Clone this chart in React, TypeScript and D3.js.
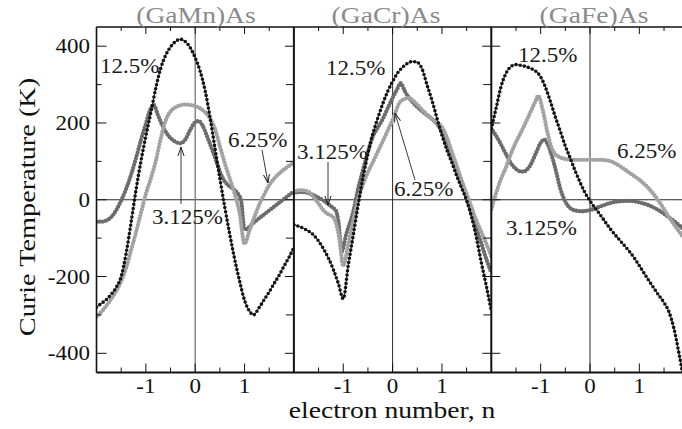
import React from 'react';
import * as d3 from 'd3';

type Pt = [number, number];

// Panel titles and series names
const panelTitles = ['(GaMn)As', '(GaCr)As', '(GaFe)As'];
const concentrations = ['12.5%', '6.25%', '3.125%'];

// (GaMn)As: Curie temperature (K) vs electron number n
const mn125: Pt[] = [[-2.0,-280],[-1.9,-270],[-1.8,-260],[-1.7,-246],[-1.6,-228],[-1.5,-200],[-1.4,-140],[-1.3,-60],[-1.2,25],[-1.1,100],[-1.0,166],[-0.9,226],[-0.8,290],[-0.7,342],[-0.6,376],[-0.5,398],[-0.4,412],[-0.3,418],[-0.2,412],[-0.1,396],[0,370],[0.1,335],[0.2,285],[0.3,215],[0.4,135],[0.5,55],[0.6,-20],[0.7,-90],[0.8,-155],[0.9,-212],[1.0,-262],[1.1,-290],[1.18,-300],[1.3,-280],[1.4,-260],[1.5,-240],[1.6,-218],[1.7,-197],[1.8,-173],[1.9,-150],[2.0,-125]];
const mn625: Pt[] = [[-2.0,-305],[-1.9,-292],[-1.8,-276],[-1.7,-258],[-1.6,-238],[-1.5,-212],[-1.4,-178],[-1.3,-132],[-1.2,-85],[-1.1,-35],[-1.0,15],[-0.9,55],[-0.8,100],[-0.7,158],[-0.6,206],[-0.5,230],[-0.4,241],[-0.3,246],[-0.2,248],[-0.1,247],[0,244],[0.1,238],[0.2,228],[0.3,212],[0.4,185],[0.5,140],[0.6,95],[0.7,55],[0.8,15],[0.9,-35],[1.0,-115],[1.1,-80],[1.2,-45],[1.3,-12],[1.4,14],[1.5,38],[1.6,55],[1.7,68],[1.8,79],[1.9,88],[2.0,97]];
const mn3125: Pt[] = [[-2.0,-57],[-1.9,-57],[-1.8,-54],[-1.7,-45],[-1.6,-27],[-1.5,-2],[-1.4,28],[-1.3,65],[-1.2,108],[-1.1,155],[-1.0,198],[-0.92,232],[-0.84,247],[-0.76,222],[-0.66,192],[-0.55,168],[-0.45,155],[-0.3,147],[-0.2,157],[-0.1,182],[0,202],[0.07,205],[0.15,193],[0.25,162],[0.35,128],[0.45,92],[0.55,58],[0.65,40],[0.75,30],[0.85,18],[0.93,-2],[1.0,-78],[1.2,-58],[1.4,-38],[1.6,-18],[1.8,2],[2.0,22]];

// (GaCr)As
const cr125: Pt[] = [[-2.0,-65],[-1.8,-75],[-1.6,-92],[-1.4,-128],[-1.3,-152],[-1.2,-182],[-1.1,-218],[-1.0,-258],[-0.9,-172],[-0.8,-95],[-0.7,-15],[-0.6,58],[-0.5,120],[-0.4,172],[-0.3,213],[-0.2,250],[-0.1,282],[0,308],[0.1,330],[0.2,345],[0.3,355],[0.4,360],[0.5,358],[0.6,340],[0.7,298],[0.8,258],[0.9,212],[1.0,168],[1.1,130],[1.2,97],[1.3,62],[1.4,30],[1.5,-2],[1.6,-45],[1.7,-100],[1.8,-165],[1.9,-225],[2.0,-290]];
const cr625: Pt[] = [[-2.0,22],[-1.85,25],[-1.7,20],[-1.6,6],[-1.5,-10],[-1.4,-28],[-1.3,-38],[-1.2,-46],[-1.15,-60],[-1.08,-100],[-1.0,-172],[-0.9,-118],[-0.8,-56],[-0.7,0],[-0.6,40],[-0.5,72],[-0.4,98],[-0.3,125],[-0.2,152],[-0.1,180],[0,208],[0.06,228],[0.12,248],[0.2,260],[0.33,265],[0.45,254],[0.63,230],[0.8,210],[1.03,183],[1.1,162],[1.2,125],[1.3,88],[1.4,50],[1.5,15],[1.6,-20],[1.7,-55],[1.8,-85],[1.9,-115],[2.0,-148]];
const cr3125: Pt[] = [[-2.0,18],[-1.85,20],[-1.7,17],[-1.6,12],[-1.5,5],[-1.4,-2],[-1.3,-12],[-1.2,-22],[-1.15,-28],[-1.1,-55],[-1.03,-135],[-0.95,-95],[-0.8,-32],[-0.7,28],[-0.6,78],[-0.5,125],[-0.4,165],[-0.3,188],[-0.2,210],[-0.1,238],[0,265],[0.1,290],[0.16,304],[0.25,282],[0.4,255],[0.6,230],[0.8,210],[0.9,198],[1.0,176],[1.1,146],[1.2,112],[1.3,80],[1.4,42],[1.5,5],[1.6,-35],[1.7,-75],[1.8,-115],[1.9,-155],[2.0,-190]];

// (GaFe)As
const fe125: Pt[] = [[-2.0,185],[-1.9,240],[-1.8,296],[-1.7,330],[-1.6,347],[-1.5,352],[-1.4,350],[-1.3,347],[-1.2,342],[-1.1,335],[-1.0,320],[-0.9,292],[-0.8,255],[-0.7,215],[-0.6,178],[-0.5,140],[-0.4,108],[-0.3,75],[-0.2,45],[-0.1,18],[0,-3],[0.2,-38],[0.4,-74],[0.6,-105],[0.8,-135],[0.9,-152],[1.0,-172],[1.2,-212],[1.4,-250],[1.5,-268],[1.6,-292],[1.7,-335],[1.8,-398],[1.9,-470]];
const fe625: Pt[] = [[-2.0,-25],[-1.9,18],[-1.8,55],[-1.7,85],[-1.6,120],[-1.5,150],[-1.4,175],[-1.3,202],[-1.2,230],[-1.1,258],[-1.05,271],[-0.96,235],[-0.86,174],[-0.78,136],[-0.7,118],[-0.6,110],[-0.5,106],[-0.3,104],[0,104],[0.2,104],[0.4,101],[0.6,88],[0.8,70],[1.0,52],[1.2,28],[1.4,-5],[1.6,-45],[1.8,-82],[2.0,-115]];
const fe3125: Pt[] = [[-2.0,185],[-1.9,166],[-1.8,143],[-1.7,118],[-1.6,95],[-1.5,80],[-1.42,74],[-1.35,73],[-1.28,78],[-1.2,92],[-1.1,120],[-1.0,148],[-0.93,157],[-0.86,145],[-0.8,125],[-0.7,80],[-0.6,28],[-0.5,-5],[-0.4,-22],[-0.3,-28],[-0.15,-30],[0,-27],[0.2,-18],[0.4,-9],[0.6,-4],[0.8,-3],[1.0,-7],[1.2,-15],[1.4,-28],[1.6,-46],[1.8,-66],[2.0,-90]];

const panelSeries: Pt[][][] = [
  [mn125, mn625, mn3125],
  [cr125, cr625, cr3125],
  [fe125, fe625, fe3125],
];

// Axis ticks
const yTickLabels = [-400, -200, 0, 200, 400];
const yMinorTicks = [-300, -100, 100, 300];
const xTickLabels = [-1, 0, 1];
const xMinorTicks = [-1.5, -0.5, 0.5, 1.5];

const W = 682;
const H = 429;
const LEFT = 96.5;
const TOP = 27;
const BOTTOM = 372.5;
const PANEL_W = 197.4;
const FONT = 'Times New Roman';
const SX = 1.15;

// Line style per concentration
const seriesStyle = [
  { color: '#141414', dot: 3.6, gap: 4.2, line: 0.9 },
  { color: '#a2a2a2', dot: 4.3, gap: 3.2, line: 0 },
  { color: '#6c6c6c', dot: 4.3, gap: 3.2, line: 0 },
];

// Annotation placement (pixels)
const labelPlacement = [
  [
    { text: concentrations[0], x: 100, y: 73 },
    { text: concentrations[1], x: 228, y: 147 },
    { text: concentrations[2], x: 152, y: 224 },
  ],
  [
    { text: concentrations[0], x: 326, y: 75 },
    { text: concentrations[2], x: 297, y: 159 },
    { text: concentrations[1], x: 394, y: 196 },
  ],
  [
    { text: concentrations[0], x: 518, y: 62 },
    { text: concentrations[1], x: 617, y: 158 },
    { text: concentrations[2], x: 506, y: 235 },
  ],
];
const arrowPlacement = [
  { x1: 181, y1: 204, x2: 181, y2: 147 },
  { x1: 262, y1: 150, x2: 268, y2: 183 },
  { x1: 328, y1: 162, x2: 328, y2: 205 },
  { x1: 415, y1: 180, x2: 395, y2: 113 },
];
const titleCenters = [196, 386, 594];

function Txt(props: {
  x: number; y: number; size: number; anchor?: string; fill?: string; rotate?: number; sx?: number; children: React.ReactNode;
}) {
  const { x, y, size, anchor = 'start', fill = '#111', rotate, sx = SX, children } = props;
  const tr = `translate(${x},${y})${rotate ? ` rotate(${rotate})` : ''} scale(${sx},1)`;
  return (
    <text className="serifText" transform={tr} fontFamily={FONT} fontSize={size} textAnchor={anchor} fill={fill}>
      {children}
    </text>
  );
}

export default function App() {
  const y = d3.scaleLinear().domain([-450, 450]).range([BOTTOM, TOP]);
  const xs = panelTitles.map((_, i) =>
    d3.scaleLinear().domain([-2, 2]).range([LEFT + i * PANEL_W, LEFT + (i + 1) * PANEL_W])
  );

  return (
    <svg width={W} height={H} style={{ position: 'absolute', left: 0, top: 0, background: '#fff' }}>
      <style>{`.serifText { font-family: "Liberation Serif", "Times New Roman", Times, serif; }`}</style>
      <defs>
        {xs.map((x, i) => (
          <clipPath id={`clip${i}`} key={i}>
            <rect x={x.range()[0]} y={TOP} width={PANEL_W} height={BOTTOM - TOP} />
          </clipPath>
        ))}
        <marker id="arrowHead" viewBox="0 0 10 10" refX="10" refY="5" markerWidth="9" markerHeight="9"
          markerUnits="userSpaceOnUse" orient="auto">
          <path d="M0,1.6 L10,5 L0,8.4" fill="none" stroke="#222" strokeWidth={1.1} />
        </marker>
      </defs>

      {/* zero lines */}
      <line x1={LEFT} x2={W + 10} y1={y(0)} y2={y(0)} stroke="#111" strokeWidth={0.9} />
      {xs.map((x, i) => (
        <line key={`vz${i}`} x1={x(0)} x2={x(0)} y1={TOP} y2={BOTTOM}
          stroke={i === 0 ? '#777' : '#111'} strokeWidth={i === 0 ? 1.3 : 0.9} />
      ))}

      {/* curves */}
      {xs.map((x, i) => {
        const line = d3.line<Pt>().x(d => x(d[0])).y(d => y(d[1])).curve(d3.curveMonotoneX);
        const order = [2, 1, 0];
        return (
          <g key={`p${i}`} clipPath={`url(#clip${i})`}>
            {order.map(k => {
              const st = seriesStyle[k];
              const d = line(panelSeries[i][k]) || '';
              return (
                <g key={k}>
                  {st.line > 0 && <path d={d} fill="none" stroke={st.color} strokeWidth={st.line} />}
                  <path d={d} fill="none" stroke={st.color} strokeWidth={st.dot}
                    strokeLinecap="round" strokeDasharray={`0 ${st.gap}`} />
                </g>
              );
            })}
          </g>
        );
      })}

      {/* frame */}
      <line x1={LEFT} x2={W + 10} y1={TOP} y2={TOP} stroke="#111" strokeWidth={1.3} />
      <line x1={LEFT} x2={W + 10} y1={BOTTOM} y2={BOTTOM} stroke="#111" strokeWidth={1.8} />
      <line x1={LEFT} x2={LEFT} y1={TOP} y2={BOTTOM} stroke="#111" strokeWidth={1.6} />
      {[1, 2].map(i => (
        <line key={`sep${i}`} x1={LEFT + i * PANEL_W} x2={LEFT + i * PANEL_W} y1={TOP} y2={BOTTOM}
          stroke="#111" strokeWidth={2} />
      ))}

      {/* x ticks, top and bottom */}
      {xs.map((x, i) => (
        <g key={`xt${i}`} stroke="#111" strokeWidth={1}>
          {xTickLabels.map(v => (
            <g key={`M${v}`}>
              <line x1={x(v)} x2={x(v)} y1={BOTTOM} y2={BOTTOM - 9} />
              <line x1={x(v)} x2={x(v)} y1={TOP} y2={TOP + 7} />
            </g>
          ))}
          {xMinorTicks.map(v => (
            <g key={`m${v}`}>
              <line x1={x(v)} x2={x(v)} y1={BOTTOM} y2={BOTTOM - 5} />
              <line x1={x(v)} x2={x(v)} y1={TOP} y2={TOP + 4} />
            </g>
          ))}
        </g>
      ))}

      {/* y ticks */}
      <g stroke="#111" strokeWidth={1}>
        {yTickLabels.map(v => (
          <g key={`yM${v}`}>
            <line x1={LEFT} x2={LEFT + 10} y1={y(v)} y2={y(v)} />
            <line x1={LEFT + PANEL_W} x2={LEFT + PANEL_W - 9} y1={y(v)} y2={y(v)} />
            <line x1={LEFT + 2 * PANEL_W} x2={LEFT + 2 * PANEL_W - 9} y1={y(v)} y2={y(v)} />
            <line x1={LEFT + 2 * PANEL_W} x2={LEFT + 2 * PANEL_W + 9} y1={y(v)} y2={y(v)} />
          </g>
        ))}
        {yMinorTicks.map(v => (
          <g key={`ym${v}`}>
            <line x1={LEFT} x2={LEFT + 5} y1={y(v)} y2={y(v)} />
            <line x1={LEFT + PANEL_W} x2={LEFT + PANEL_W - 8} y1={y(v)} y2={y(v)} />
            <line x1={LEFT + 2 * PANEL_W} x2={LEFT + 2 * PANEL_W - 8} y1={y(v)} y2={y(v)} />
          </g>
        ))}
      </g>

      {/* tick labels */}
      {yTickLabels.map(v => (
        <Txt key={`yl${v}`} x={90} y={y(v) + 7} size={20} anchor="end">{String(v)}</Txt>
      ))}
      {xs.map((x, i) =>
        xTickLabels.map(v => (
          <Txt key={`xl${i}${v}`} x={x(v)} y={393} size={20} anchor="middle">{String(v)}</Txt>
        ))
      )}

      {/* panel titles */}
      {panelTitles.map((t, i) => (
        <Txt key={t} x={titleCenters[i]} y={23} size={24} anchor="middle" fill="#8a8a8a">{t}</Txt>
      ))}

      {/* axis titles */}
      <Txt x={392} y={418} size={24} anchor="middle">electron number, n</Txt>
      <Txt x={35} y={207} size={24} anchor="middle" rotate={-90} sx={1.18}>Curie Temperature (K)</Txt>

      {/* series annotations */}
      {labelPlacement.flat().map((l, k) => (
        <Txt key={`lab${k}`} x={l.x} y={l.y} size={20} fill="#1a1a1a">{l.text}</Txt>
      ))}
      {arrowPlacement.map((a, k) => (
        <line key={`ar${k}`} x1={a.x1} y1={a.y1} x2={a.x2} y2={a.y2} stroke="#222" strokeWidth={0.9}
          markerEnd="url(#arrowHead)" />
      ))}
    </svg>
  );
}
